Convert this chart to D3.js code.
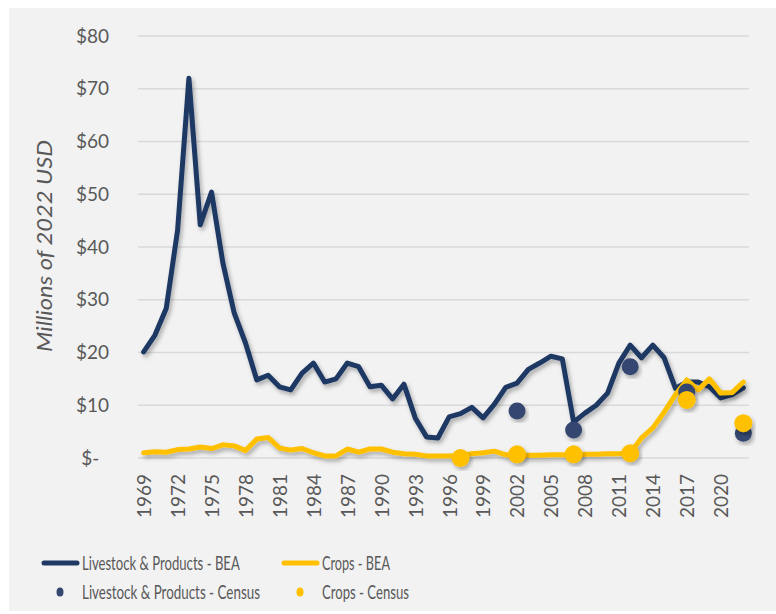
<!DOCTYPE html>
<html>
<head>
  <meta charset="utf-8">
  <title>Livestock and Crops</title>
  <script src="https://d3js.org/d3.v7.min.js"></script>
  <style>
    body { margin: 0; background: #fff; }
    text { font-family: Lato, "Open Sans", sans-serif; fill: #595959; }
  </style>
</head>
<body>
<div id="chart"></div>
<script>
  // years on the category axis
  var years = d3.range(1969, 2023);

  // BEA series, millions of 2022 USD
  var livestockBEA = [20.1, 23.3, 28.4, 43.2, 72.0, 44.2, 50.4, 37.0, 27.5, 21.8,
    14.8, 15.7, 13.5, 12.9, 16.1, 18.0, 14.4, 15.0, 18.0, 17.3,
    13.5, 13.8, 11.2, 14.0, 7.6, 4.0, 3.8, 7.8, 8.4, 9.6,
    7.6, 10.2, 13.4, 14.2, 16.8, 18.0, 19.3, 18.8, 6.8, 8.5,
    10.0, 12.3, 18.0, 21.4, 19.0, 21.4, 19.0, 13.2, 14.4, 14.4,
    13.5, 11.4, 12.0, 13.3];
  var cropsBEA = [1.0, 1.2, 1.1, 1.6, 1.7, 2.1, 1.8, 2.5, 2.3, 1.4,
    3.6, 3.9, 1.9, 1.5, 1.8, 1.0, 0.4, 0.4, 1.7, 1.1,
    1.7, 1.7, 1.1, 0.8, 0.7, 0.4, 0.4, 0.4, 0.5, 0.8,
    1.0, 1.3, 0.6, 0.5, 0.5, 0.5, 0.6, 0.6, 0.6, 0.7,
    0.7, 0.8, 0.8, 1.0, 3.8, 5.7, 8.7, 12.0, 14.8, 12.9,
    15.0, 12.3, 12.4, 14.4];

  // Census of Agriculture points
  var censusYears = [1997, 2002, 2007, 2012, 2017, 2022];
  var livestockCensus = [null, 8.9, 5.3, 17.3, 12.5, 4.7];
  var cropsCensus = [0.0, 0.7, 0.7, 0.9, 11.0, 6.6];

  var yTicks = [0, 10, 20, 30, 40, 50, 60, 70, 80];
  var xTickYears = d3.range(1969, 2023, 3);

  var legendItems = [
    { label: "Livestock & Products - BEA", kind: "line", color: "#1f3864", w: 158 },
    { label: "Crops - BEA", kind: "line", color: "#ffc000", w: 68 },
    { label: "Livestock & Products - Census", kind: "dot", color: "#34476f", w: 178 },
    { label: "Crops - Census", kind: "dot", color: "#ffc000", w: 87 }
  ];

  var W = 776, H = 614;
  var navy = "#1f3864", gold = "#ffc000";

  var svg = d3.select("#chart").append("svg")
    .attr("width", W).attr("height", H);

  var defs = svg.append("defs");
  defs.append("filter").attr("id", "shadow")
    .attr("x", "-10%").attr("y", "-10%").attr("width", "130%").attr("height", "130%")
    .append("feDropShadow")
    .attr("dx", 2).attr("dy", 3).attr("stdDeviation", 2)
    .attr("flood-color", "#000").attr("flood-opacity", 0.3);

  svg.append("rect")
    .attr("x", 9).attr("y", 8).attr("width", 767).attr("height", 603)
    .attr("fill", "#f2f2f2");

  var x = d3.scalePoint().domain(years).range([138, 749]).padding(0.5);
  var y = d3.scaleLinear().domain([0, 80]).range([458, 36]);

  // grid lines
  svg.append("g").selectAll("line").data(yTicks).enter().append("line")
    .attr("x1", 138).attr("x2", 749)
    .attr("y1", d => y(d)).attr("y2", d => y(d))
    .attr("stroke", "#d9d9d9").attr("stroke-width", 1.5);

  // y axis
  var yAxis = d3.axisLeft(y).tickValues(yTicks).tickSize(0).tickPadding(0)
    .tickFormat(d => d === 0 ? "$-\u00a0\u00a0" : "$" + d);
  var gy = svg.append("g").attr("transform", "translate(109,0)").call(yAxis);
  gy.select(".domain").remove();
  gy.selectAll("text").style("font-size", "19px").attr("fill", "#595959");

  // x axis
  var xAxis = d3.axisBottom(x).tickValues(xTickYears).tickSize(0);
  var gx = svg.append("g").attr("transform", "translate(0,458)").call(xAxis);
  gx.select(".domain").remove();
  gx.selectAll("text")
    .style("font-size", "19px").attr("fill", "#595959")
    .attr("transform", "rotate(-90)")
    .attr("text-anchor", "end")
    .attr("x", -16).attr("y", 0).attr("dy", "0.36em");

  // axis title
  svg.append("text")
    .attr("transform", "translate(52,246) rotate(-90)")
    .attr("text-anchor", "middle")
    .style("font-size", "22px").style("font-style", "italic")
    .attr("textLength", 212).attr("lengthAdjust", "spacingAndGlyphs")
    .text("Millions of 2022 USD");

  var line = d3.line().x((d, i) => x(years[i])).y(d => y(d));

  svg.append("path").datum(livestockBEA)
    .attr("d", line).attr("fill", "none")
    .attr("stroke", navy).attr("stroke-width", 5)
    .attr("stroke-linejoin", "round").attr("stroke-linecap", "round")
    .attr("filter", "url(#shadow)");

  svg.append("path").datum(cropsBEA)
    .attr("d", line).attr("fill", "none")
    .attr("stroke", gold).attr("stroke-width", 5)
    .attr("stroke-linejoin", "round").attr("stroke-linecap", "round")
    .attr("filter", "url(#shadow)");

  svg.append("g").selectAll("circle")
    .data(censusYears.map((yr, i) => [yr, livestockCensus[i]]).filter(d => d[1] !== null))
    .enter().append("circle")
    .attr("cx", d => x(d[0])).attr("cy", d => y(d[1])).attr("r", 8.5)
    .attr("fill", "#34476f").attr("filter", "url(#shadow)");

  svg.append("g").selectAll("circle")
    .data(censusYears.map((yr, i) => [yr, cropsCensus[i]]))
    .enter().append("circle")
    .attr("cx", d => x(d[0])).attr("cy", d => y(d[1])).attr("r", 9)
    .attr("fill", gold).attr("filter", "url(#shadow)");

  // legend - text squeezed horizontally like the original
  var lg = svg.append("g");
  legendItems.forEach(function (it, i) {
    var lx = i % 2 === 0 ? 42 : 282;
    var ly = i < 2 ? 563 : 592;
    if (it.kind === "line") {
      lg.append("line").attr("x1", lx + 2).attr("x2", lx + 35)
        .attr("y1", ly).attr("y2", ly)
        .attr("stroke", it.color).attr("stroke-width", 5).attr("stroke-linecap", "round");
    } else {
      lg.append("ellipse").attr("cx", lx + 18).attr("cy", ly)
        .attr("rx", 3.5).attr("ry", 4.5).attr("fill", it.color);
    }
    var t = lg.append("text").attr("dy", "0.35em")
      .style("font-size", "20px")
      .text(it.label);
    var sx = it.w / t.node().getComputedTextLength();
    t.attr("transform", "translate(" + (lx + 40) + "," + ly + ") scale(" + sx + ",1)");
  });
</script>
</body>
</html>
